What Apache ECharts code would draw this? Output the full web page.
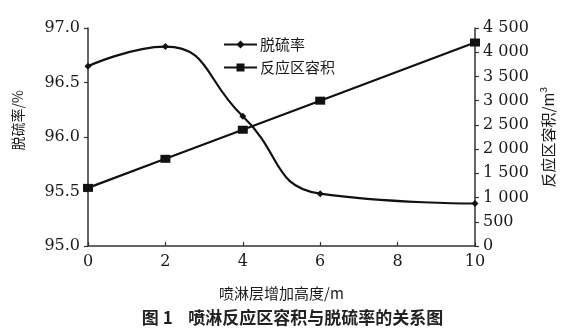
<!DOCTYPE html>
<html><head><meta charset="utf-8">
<script src="https://cdn.jsdelivr.net/npm/echarts@6/dist/echarts.min.js"></script>
<style>html,body{margin:0;padding:0;background:#fff}#c{width:585px;height:335px}</style>
</head><body><div id="c"></div>
<script>
const heights = [0, 2, 4, 6, 10];
const desulfRate = [96.65, 96.83, 96.19, 95.48, 95.39];
const heightsVol = [0, 2, 4, 6, 10];
const volume = [1200, 1800, 2400, 3000, 4200];
const xTicks = [0, 10, 2];
const leftTicks = [95, 97, 0.5];
const rightTicks = [0, 4500, 500];

const serif = 'DejaVu Serif';
const cjk = 'Noto Sans CJK SC';
const ink = '#1a1a1a';
const chart = echarts.init(document.getElementById('c'));
chart.setOption({
  backgroundColor: '#fff',
  animation: false,
  grid: {left: 88, right: 110, top: 28, bottom: 89},
  legend: {
    orient: 'vertical', left: 218, top: 32, itemGap: 8,
    itemWidth: 33, itemHeight: 10,
    textStyle: {fontFamily: cjk, fontSize: 15, color: ink, padding: [0, 0, 0, -2]},
    data: ['脱硫率', '反应区容积']
  },
  xAxis: {
    type: 'value', min: xTicks[0], max: xTicks[1], interval: xTicks[2],
    name: '喷淋层增加高度/m', nameLocation: 'middle', nameGap: 40,
    nameTextStyle: {fontFamily: cjk, fontSize: 15, color: ink},
    axisLine: {lineStyle: {color: '#333', width: 1.5}},
    axisTick: {inside: true, length: 4, lineStyle: {color: '#333', width: 1.2}},
    axisLabel: {fontFamily: serif, fontSize: 16, color: ink, margin: 8},
    splitLine: {show: false}
  },
  yAxis: [{
    type: 'value', min: leftTicks[0], max: leftTicks[1], interval: leftTicks[2],
    axisLine: {show: true, lineStyle: {color: '#333', width: 1.5}},
    axisTick: {show: true, length: 4, lineStyle: {color: '#333', width: 1.2}},
    axisLabel: {fontFamily: serif, fontSize: 16, color: ink, margin: 8,
      formatter: v => v.toFixed(1)},
    splitLine: {show: false}
  }, {
    type: 'value', min: rightTicks[0], max: rightTicks[1], interval: rightTicks[2],
    position: 'right',
    name: '反应区容积/m³', nameLocation: 'middle', nameGap: 66, nameRotate: 90,
    nameTextStyle: {fontFamily: cjk, fontSize: 15, color: ink},
    axisLine: {show: true, lineStyle: {color: '#333', width: 1.5}},
    axisTick: {show: true, length: 4, lineStyle: {color: '#333', width: 1.2}},
    axisLabel: {fontFamily: serif, fontSize: 16, color: ink, margin: 8,
      formatter: v => v >= 1000 ? Math.floor(v/1000) + ' ' + String(v%1000).padStart(3,'0') : String(v)},
    splitLine: {show: false}
  }],
  graphic: [{
    type: 'text', left: 11, top: 90, rotation: Math.PI/2,
    style: {text: '脱硫率/%', font: '14px "Noto Sans CJK SC"', fill: ink}
  }, {
    type: 'text', left: 'center', top: 309,
    style: {text: '图 1    喷淋反应区容积与脱硫率的关系图', font: 'bold 17px "Noto Sans CJK SC"', fill: '#222'}
  }],
  series: [{
    name: '脱硫率', type: 'line', yAxisIndex: 0, smooth: true,
    data: heights.map((h, i) => [h, desulfRate[i]]),
    symbol: 'diamond', symbolSize: 7,
    lineStyle: {color: '#111', width: 2.2}, itemStyle: {color: '#111'}
  }, {
    name: '反应区容积', type: 'line', yAxisIndex: 1,
    data: heightsVol.map((h, i) => [h, volume[i]]),
    symbol: 'rect', symbolSize: [10, 8],
    lineStyle: {color: '#111', width: 2.2}, itemStyle: {color: '#111'}
  }]
});
</script></body></html>
